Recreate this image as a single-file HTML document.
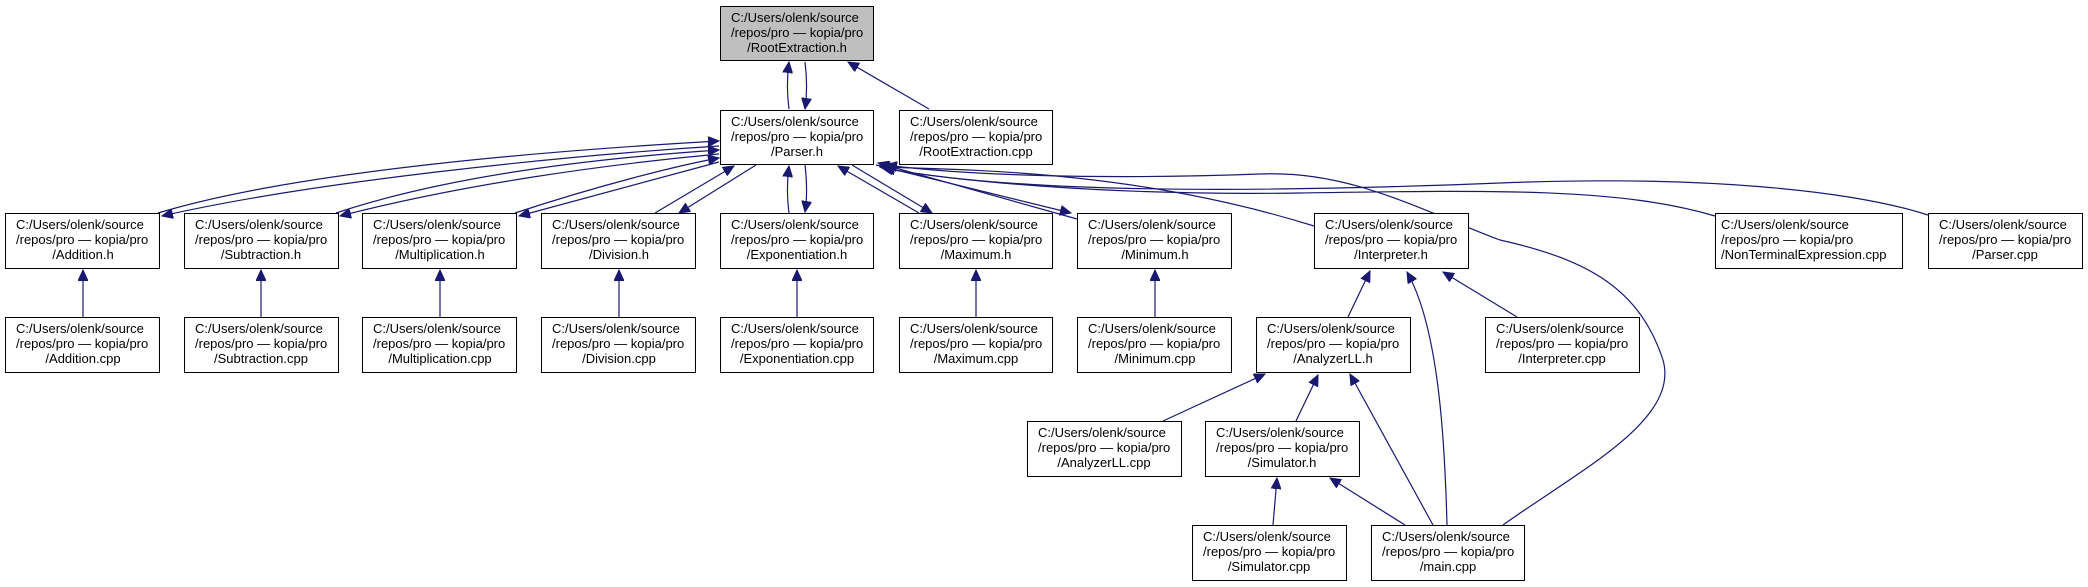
<!DOCTYPE html>
<html><head><meta charset="utf-8"><style>
html,body{margin:0;padding:0;background:#fff;}
svg{display:block;}
text{font-family:"Liberation Sans",Arial,sans-serif;font-size:13px;fill:#000;}
.b{fill:#fff;stroke:#000;stroke-width:1;}
.e{fill:none;stroke:#191970;stroke-width:1.2;}
</style></head><body>
<svg width="2088" height="587" viewBox="0 0 2088 587" xmlns="http://www.w3.org/2000/svg">
<defs>
<marker id="a" markerUnits="userSpaceOnUse" markerWidth="12" markerHeight="10" refX="11" refY="5" orient="auto">
<path d="M0,0 L11,5 L0,10 z" fill="#191970" stroke="#191970"/>
</marker>
</defs>
<g class="e" marker-end="url(#a)">
<!-- Root <-> Parser -->
<path d="M789,109 C787,95 787,78 789,62"/>
<path d="M805,62 C807,78 807,95 805,109"/>
<path d="M929,109 L848,62"/>
<!-- Addition -->
<path d="M158,213 C300,170 560,150 719,141"/>
<path d="M719,146 C560,156 310,182 162,216"/>
<!-- Subtraction -->
<path d="M336,213 C450,175 600,158 719,150"/>
<path d="M719,154 C600,165 460,185 340,216"/>
<!-- Multiplication -->
<path d="M515,213 C600,185 680,165 719,158"/>
<path d="M719,162 C680,172 610,192 519,216"/>
<!-- Division -->
<path d="M655,213 L734,166"/>
<path d="M756,165 L679,213"/>
<!-- Exponentiation -->
<path d="M789,213 C787,199 787,182 789,166"/>
<path d="M805,165 C807,182 807,199 805,212"/>
<!-- Maximum -->
<path d="M919,213 L838,166"/>
<path d="M852,165 L932,213"/>
<!-- Minimum -->
<path d="M1077,219 L878,163"/>
<path d="M876,165 L1071,213"/>
<!-- Interpreter -->
<path d="M1314,226 C1150,175 1000,170 880,167"/>
<!-- NonTerminal -->
<path d="M1715,216 C1620,188 1500,190 1300,193 C1100,196 950,180 882,168"/>
<!-- Parser.cpp -->
<path d="M1928,215 C1850,190 1700,175 1500,183 C1200,195 1000,190 884,168"/>
<!-- main.cpp -->
<path d="M1503,525 C1580,470 1680,420 1663,360 C1640,290 1590,260 1500,240 C1420,210 1350,170 1260,174 C1100,180 960,175 886,165"/>
<!-- row3 -> row4 -->
<path d="M83,317 L83,270"/>
<path d="M261,317 L261,270"/>
<path d="M440,317 L440,270"/>
<path d="M619,317 L619,270"/>
<path d="M797,317 L797,270"/>
<path d="M976,317 L976,270"/>
<path d="M1155,317 L1155,270"/>
<!-- Interpreter children -->
<path d="M1348,317 L1370,271"/>
<path d="M1447,525 C1445,450 1440,330 1407,272"/>
<path d="M1517,317 L1443,272"/>
<!-- AnalyzerLL children -->
<path d="M1163,421 L1265,374"/>
<path d="M1296,421 L1318,375"/>
<path d="M1433,525 L1350,374"/>
<!-- Simulator children -->
<path d="M1273,525 L1277,478"/>
<path d="M1405,525 L1330,478"/>
</g>

<!-- nodes -->
<g>
<rect x="720.5" y="6.5" width="153" height="54" fill="#bfbfbf" stroke="#000"/>
<text x="731" y="22">C:/Users/olenk/source</text><text x="731" y="37">/repos/pro — kopia/pro</text><text x="797" y="52" text-anchor="middle">/RootExtraction.h</text>

<rect class="b" x="720.5" y="110.5" width="153" height="54"/>
<text x="731" y="126">C:/Users/olenk/source</text><text x="731" y="141">/repos/pro — kopia/pro</text><text x="797" y="156" text-anchor="middle">/Parser.h</text>

<rect class="b" x="899.5" y="110.5" width="153" height="54"/>
<text x="910" y="126">C:/Users/olenk/source</text><text x="910" y="141">/repos/pro — kopia/pro</text><text x="976" y="156" text-anchor="middle">/RootExtraction.cpp</text>

<!-- row3 y=213 -->
<rect class="b" x="5.5" y="213.5" width="154" height="55"/>
<text x="16" y="229">C:/Users/olenk/source</text><text x="16" y="244">/repos/pro — kopia/pro</text><text x="83" y="259" text-anchor="middle">/Addition.h</text>
<rect class="b" x="184.5" y="213.5" width="154" height="55"/>
<text x="195" y="229">C:/Users/olenk/source</text><text x="195" y="244">/repos/pro — kopia/pro</text><text x="261" y="259" text-anchor="middle">/Subtraction.h</text>
<rect class="b" x="362.5" y="213.5" width="154" height="55"/>
<text x="373" y="229">C:/Users/olenk/source</text><text x="373" y="244">/repos/pro — kopia/pro</text><text x="440" y="259" text-anchor="middle">/Multiplication.h</text>
<rect class="b" x="541.5" y="213.5" width="154" height="55"/>
<text x="552" y="229">C:/Users/olenk/source</text><text x="552" y="244">/repos/pro — kopia/pro</text><text x="619" y="259" text-anchor="middle">/Division.h</text>
<rect class="b" x="720.5" y="213.5" width="153" height="55"/>
<text x="731" y="229">C:/Users/olenk/source</text><text x="731" y="244">/repos/pro — kopia/pro</text><text x="797" y="259" text-anchor="middle">/Exponentiation.h</text>
<rect class="b" x="899.5" y="213.5" width="153" height="55"/>
<text x="910" y="229">C:/Users/olenk/source</text><text x="910" y="244">/repos/pro — kopia/pro</text><text x="976" y="259" text-anchor="middle">/Maximum.h</text>
<rect class="b" x="1077.5" y="213.5" width="154" height="55"/>
<text x="1088" y="229">C:/Users/olenk/source</text><text x="1088" y="244">/repos/pro — kopia/pro</text><text x="1155" y="259" text-anchor="middle">/Minimum.h</text>
<rect class="b" x="1314.5" y="213.5" width="154" height="55"/>
<text x="1325" y="229">C:/Users/olenk/source</text><text x="1325" y="244">/repos/pro — kopia/pro</text><text x="1391" y="259" text-anchor="middle">/Interpreter.h</text>
<rect class="b" x="1715.5" y="213.5" width="187" height="55"/>
<text x="1721" y="229">C:/Users/olenk/source</text><text x="1721" y="244">/repos/pro — kopia/pro</text><text x="1721" y="259">/NonTerminalExpression.cpp</text>
<rect class="b" x="1928.5" y="213.5" width="154" height="55"/>
<text x="1939" y="229">C:/Users/olenk/source</text><text x="1939" y="244">/repos/pro — kopia/pro</text><text x="2005" y="259" text-anchor="middle">/Parser.cpp</text>

<!-- row4 y=317 -->
<rect class="b" x="5.5" y="317.5" width="154" height="55"/>
<text x="16" y="333">C:/Users/olenk/source</text><text x="16" y="348">/repos/pro — kopia/pro</text><text x="83" y="363" text-anchor="middle">/Addition.cpp</text>
<rect class="b" x="184.5" y="317.5" width="154" height="55"/>
<text x="195" y="333">C:/Users/olenk/source</text><text x="195" y="348">/repos/pro — kopia/pro</text><text x="261" y="363" text-anchor="middle">/Subtraction.cpp</text>
<rect class="b" x="362.5" y="317.5" width="154" height="55"/>
<text x="373" y="333">C:/Users/olenk/source</text><text x="373" y="348">/repos/pro — kopia/pro</text><text x="440" y="363" text-anchor="middle">/Multiplication.cpp</text>
<rect class="b" x="541.5" y="317.5" width="154" height="55"/>
<text x="552" y="333">C:/Users/olenk/source</text><text x="552" y="348">/repos/pro — kopia/pro</text><text x="619" y="363" text-anchor="middle">/Division.cpp</text>
<rect class="b" x="720.5" y="317.5" width="153" height="55"/>
<text x="731" y="333">C:/Users/olenk/source</text><text x="731" y="348">/repos/pro — kopia/pro</text><text x="797" y="363" text-anchor="middle">/Exponentiation.cpp</text>
<rect class="b" x="899.5" y="317.5" width="153" height="55"/>
<text x="910" y="333">C:/Users/olenk/source</text><text x="910" y="348">/repos/pro — kopia/pro</text><text x="976" y="363" text-anchor="middle">/Maximum.cpp</text>
<rect class="b" x="1077.5" y="317.5" width="154" height="55"/>
<text x="1088" y="333">C:/Users/olenk/source</text><text x="1088" y="348">/repos/pro — kopia/pro</text><text x="1155" y="363" text-anchor="middle">/Minimum.cpp</text>
<rect class="b" x="1256.5" y="317.5" width="154" height="55"/>
<text x="1267" y="333">C:/Users/olenk/source</text><text x="1267" y="348">/repos/pro — kopia/pro</text><text x="1333" y="363" text-anchor="middle">/AnalyzerLL.h</text>
<rect class="b" x="1485.5" y="317.5" width="154" height="55"/>
<text x="1496" y="333">C:/Users/olenk/source</text><text x="1496" y="348">/repos/pro — kopia/pro</text><text x="1562" y="363" text-anchor="middle">/Interpreter.cpp</text>

<!-- row5 y=421 -->
<rect class="b" x="1027.5" y="421.5" width="154" height="55"/>
<text x="1038" y="437">C:/Users/olenk/source</text><text x="1038" y="452">/repos/pro — kopia/pro</text><text x="1104" y="467" text-anchor="middle">/AnalyzerLL.cpp</text>
<rect class="b" x="1205.5" y="421.5" width="154" height="55"/>
<text x="1216" y="437">C:/Users/olenk/source</text><text x="1216" y="452">/repos/pro — kopia/pro</text><text x="1282" y="467" text-anchor="middle">/Simulator.h</text>

<!-- row6 y=525 -->
<rect class="b" x="1192.5" y="525.5" width="154" height="55"/>
<text x="1203" y="541">C:/Users/olenk/source</text><text x="1203" y="556">/repos/pro — kopia/pro</text><text x="1269" y="571" text-anchor="middle">/Simulator.cpp</text>
<rect class="b" x="1371.5" y="525.5" width="153" height="55"/>
<text x="1382" y="541">C:/Users/olenk/source</text><text x="1382" y="556">/repos/pro — kopia/pro</text><text x="1448" y="571" text-anchor="middle">/main.cpp</text>
</g>
</svg>
</body></html>
